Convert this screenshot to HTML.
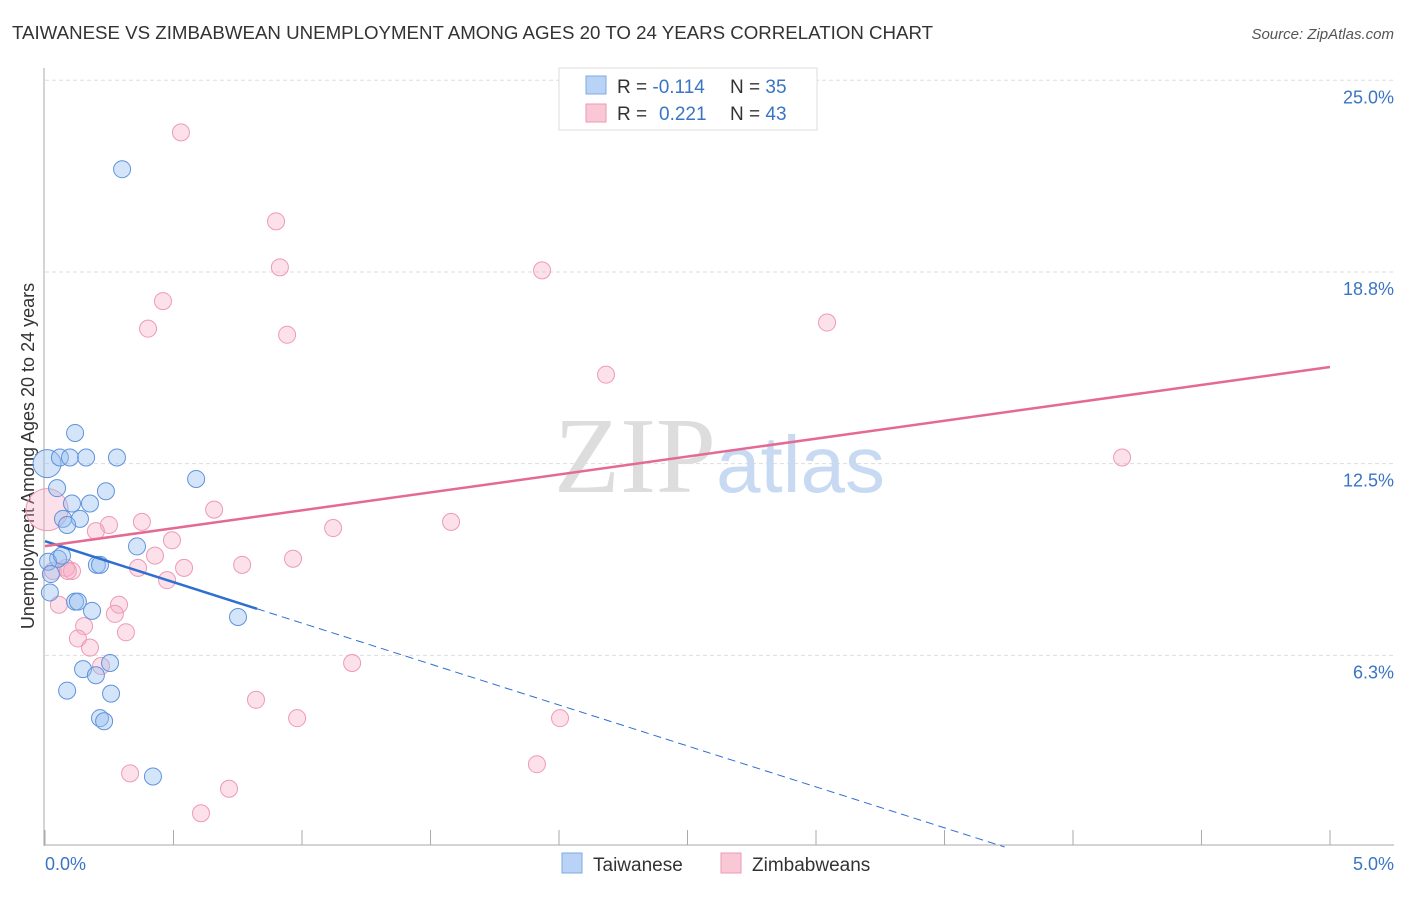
<!DOCTYPE html>
<html><head><meta charset="utf-8"><style>
body{margin:0;background:#fff;font-family:"Liberation Sans",sans-serif;}
</style></head><body>
<svg width="1406" height="892" xmlns="http://www.w3.org/2000/svg" font-family="Liberation Sans, sans-serif">
<text x="12" y="39" font-size="18.7" fill="#333">TAIWANESE VS ZIMBABWEAN UNEMPLOYMENT AMONG AGES 20 TO 24 YEARS CORRELATION CHART</text>
<text x="1394" y="39" font-size="15" fill="#555" font-style="italic" text-anchor="end">Source: ZipAtlas.com</text>
<g id="grid"></g>
<text x="716" y="492" font-size="108" font-family="Liberation Serif, serif" fill="#ddd" text-anchor="end">ZIP</text>
<text x="716" y="492" font-size="80" fill="#c8daf2">atlas</text>
<line x1="44" y1="68" x2="44" y2="846" stroke="#aaa"/>
<line x1="44" y1="845" x2="1394" y2="845" stroke="#aaa"/>
<g id="xticks"></g>
<text x="45" y="870" font-size="18" fill="#3a75c4">0.0%</text>
<text x="1394" y="870" font-size="18" fill="#3a75c4" text-anchor="end">5.0%</text>
<text transform="translate(34,456) rotate(-90)" font-size="18" fill="#333" text-anchor="middle">Unemployment Among Ages 20 to 24 years</text>
<g id="pts"></g>
<g id="lines"></g>
<g>
<rect x="559" y="68" width="258" height="62" fill="#fff" stroke="#ddd"/>
<rect x="586" y="76" width="20" height="18" fill="#b8d3f5" stroke="#7ea8e0"/>
<rect x="586" y="104" width="20" height="18" fill="#f9c7d6" stroke="#ee9ab4"/>
<text x="617" y="93" font-size="19" fill="#333">R = <tspan fill="#3a75c4">-0.114</tspan><tspan x="730">N = </tspan><tspan fill="#3a75c4">35</tspan></text>
<text x="617" y="120" font-size="19" fill="#333">R = <tspan fill="#3a75c4" x="659">0.221</tspan><tspan x="730">N = </tspan><tspan fill="#3a75c4">43</tspan></text>
</g>
<g>
<rect x="562" y="853" width="20" height="20" fill="#b8d3f5" stroke="#7ea8e0"/>
<text x="593" y="871" font-size="19" fill="#333">Taiwanese</text>
<rect x="721" y="853" width="20" height="20" fill="#f9c7d6" stroke="#ee9ab4"/>
<text x="752" y="871" font-size="19" fill="#333">Zimbabweans</text>
</g>
</svg>
<script>
const yTicks=[6.25,12.5,18.75,25];
const yTickLabels=["6.3%","12.5%","18.8%","25.0%"];
const xTicks=[0,0.5,1,1.5,2,2.5,3,3.5,4,4.5,5];
const twX=[0.300,0.008,0.058,0.097,0.160,0.280,0.117,0.047,0.105,0.175,0.237,0.588,0.070,0.136,0.086,0.358,0.051,0.012,0.066,0.202,0.214,0.023,0.019,0.117,0.128,0.183,0.751,0.253,0.148,0.198,0.086,0.257,0.214,0.230,0.420];
const twY=[22.1,12.5,12.7,12.7,12.7,12.7,13.5,11.7,11.2,11.2,11.6,12.0,10.7,10.7,10.5,9.8,9.4,9.3,9.5,9.2,9.2,8.9,8.3,8.0,8.0,7.7,7.5,6.0,5.8,5.6,5.1,5.0,4.2,4.1,2.3];
const zwX=[0.529,0.899,0.914,1.934,0.459,3.043,0.401,0.942,2.183,4.191,0.008,0.658,0.377,1.580,1.121,0.249,0.198,0.494,0.428,0.965,0.767,0.541,0.362,0.031,0.082,0.105,0.089,0.475,0.054,0.288,0.272,0.152,0.315,0.128,0.175,0.218,1.195,0.821,0.981,2.004,0.331,1.914,0.716,0.607];
const zwY=[23.3,20.4,18.9,18.8,17.8,17.1,16.9,16.7,15.4,12.7,11.0,11.0,10.6,10.6,10.4,10.5,10.3,10.0,9.5,9.4,9.2,9.1,9.1,9.0,9.1,9.0,9.0,8.7,7.9,7.9,7.6,7.2,7.0,6.8,6.5,5.9,6.0,4.8,4.2,4.2,2.4,2.7,1.9,1.1];
const twFit=[9.97,-2.67], zwFit=[9.81,1.168];
const X=v=>45+v*257, Y=v=>847-v*30.67;
const NS="http://www.w3.org/2000/svg";
function mk(t,a,p){const e=document.createElementNS(NS,t);for(const k in a)e.setAttribute(k,a[k]);p.appendChild(e);return e;}
const g=document.getElementById('grid');
yTicks.forEach((t,i)=>{const l=mk('line',{x1:45,x2:1394,y1:Y(t),y2:Y(t),stroke:'#ddd','stroke-dasharray':'4,3'},g);


const tx=mk('text',{x:1394,y:Y(t)+23,'font-size':18,fill:'#3a75c4','text-anchor':'end'},g);tx.textContent=yTickLabels[i];

});
const xt=document.getElementById('xticks');
xTicks.forEach(t=>{const l=mk('line',{x1:X(t),x2:X(t),y1:830,y2:845,stroke:'#aaa'},xt);

});
const p=document.getElementById('pts');
zwX.forEach((x,i)=>{const c=mk('circle',{cx:X(x),cy:Y(zwY[i]),r:i==10?21:8.5,fill:'rgba(246,170,195,0.35)',stroke:'#ee9ab4','stroke-width':1},p);

});
twX.forEach((x,i)=>{const c=mk('circle',{cx:X(x),cy:Y(twY[i]),r:i==1?14:8.5,fill:'rgba(150,190,240,0.4)',stroke:'#5f93dc','stroke-width':1},p);

});
const L=document.getElementById('lines');
const f=(fit,x)=>fit[0]+fit[1]*x;
let a=mk('line',{x1:X(0),y1:Y(f(twFit,0)),x2:X(0.825),y2:Y(f(twFit,0.825)),stroke:'#2f6fd0','stroke-width':2.5},L);


const xe=-twFit[0]/twFit[1];
a=mk('line',{x1:X(0.825),y1:Y(f(twFit,0.825)),x2:X(xe),y2:Y(0),stroke:'#2f6fd0','stroke-width':1,'stroke-dasharray':'8,5'},L);


a=mk('line',{x1:X(0),y1:Y(f(zwFit,0)),x2:X(5),y2:Y(f(zwFit,5)),stroke:'#e56a93','stroke-width':2.5},L);


</script>
</body></html>
